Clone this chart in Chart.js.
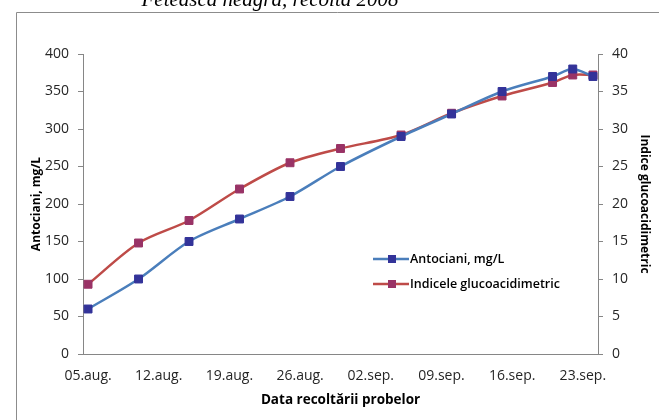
<!DOCTYPE html>
<html>
<head>
<meta charset="utf-8">
<script src="https://cdn.jsdelivr.net/npm/chart.js@4/dist/chart.umd.min.js"></script>
<style>
  html, body { margin: 0; padding: 0; background: #fff; }
  #chart { display: block; }
</style>
</head>
<body>
<canvas id="chart" width="659" height="420"></canvas>
<script>
// sampling dates (2008) and measured values
const sampleDates = ['2008-08-05', '2008-08-10', '2008-08-15', '2008-08-20', '2008-08-25', '2008-08-30',
                     '2008-09-05', '2008-09-10', '2008-09-15', '2008-09-20', '2008-09-22', '2008-09-24']
const antociani = [60, 100, 150, 180, 210, 250, 290, 320, 350, 370, 380, 370]
const indiceGA = [9.3, 14.8, 17.8, 22.0, 25.5, 27.4, 29.2, 32.1, 34.4, 36.2, 37.2, 37.2]
const tickLabels = ['05.aug.', '12.aug.', '19.aug.', '26.aug.', '02.sep.', '09.sep.', '16.sep.', '23.sep.']
const seriesNames = ['Antociani, mg/L', 'Indicele glucoacidimetric']

const DAY = 86400000
const start = Date.parse(sampleDates[0])
const dayOf = d => Math.round((Date.parse(d) - start) / DAY)

const AXIS_GREY = '#868686'
const TEXT = '#262626'
const FONT = 'Open Sans'

const blueLine = '#4a7ebb', blueMark = '#333399'
const redLine = '#be4b48', redMark = '#993366'

function points(values) {
  return values.map((v, i) => ({ x: dayOf(sampleDates[i]), y: v }))
}

// frame, title and the small legend inside the plot
const decorations = {
  id: 'decorations',
  beforeDraw(chart) {
    const ctx = chart.ctx
    ctx.save()
    ctx.strokeStyle = '#8c8c8c'
    ctx.lineWidth = 1
    ctx.beginPath()
    ctx.moveTo(16.5, 420)
    ctx.lineTo(16.5, 12.5)
    ctx.lineTo(659, 12.5)
    ctx.stroke()
    ctx.fillStyle = '#000'
    ctx.font = 'italic 21px "Liberation Serif"'
    ctx.textAlign = 'center'
    ctx.textBaseline = 'alphabetic'
    ctx.fillText('Feteasca neagră, recolta 2008', 270, 6)
    ctx.restore()
  },
  afterDraw(chart) {
    const ctx = chart.ctx
    const rows = [
      { name: seriesNames[0], line: blueLine, mark: blueMark, y: 259 },
      { name: seriesNames[1], line: redLine, mark: redMark, y: 284 }
    ]
    ctx.save()
    rows.forEach(r => {
      ctx.strokeStyle = r.line
      ctx.lineWidth = 2.5
      ctx.beginPath()
      ctx.moveTo(373, r.y)
      ctx.lineTo(409, r.y)
      ctx.stroke()
      ctx.fillStyle = r.mark
      ctx.fillRect(388, r.y - 4, 8, 8)
      ctx.fillStyle = '#000'
      ctx.font = '600 12.5px "' + FONT + '"'
      ctx.textAlign = 'left'
      ctx.textBaseline = 'middle'
      ctx.fillText(r.name, 410, r.y)
    })
    ctx.restore()
  }
}

const config = {
  type: 'line',
  data: {
    datasets: [
      {
        label: seriesNames[0],
        data: points(antociani),
        yAxisID: 'y',
        borderColor: blueLine,
        borderWidth: 2.5,
        pointStyle: 'rect',
        pointRadius: 5.6,
        pointBackgroundColor: blueMark,
        pointBorderColor: blueMark,
        pointBorderWidth: 1,
        tension: 0.3
      },
      {
        label: seriesNames[1],
        data: points(indiceGA),
        yAxisID: 'y2',
        borderColor: redLine,
        borderWidth: 2.5,
        pointStyle: 'rect',
        pointRadius: 5.6,
        pointBackgroundColor: redMark,
        pointBorderColor: redMark,
        pointBorderWidth: 1,
        tension: 0.3
      }
    ]
  },
  options: {
    responsive: false,
    animation: false,
    layout: { padding: { top: 54, left: 0, right: 0, bottom: 0 } },
    plugins: {
      legend: { display: false },
      title: { display: false },
      tooltip: { enabled: false }
    },
    scales: {
      x: {
        type: 'linear',
        position: 'bottom',
        min: -0.5,
        max: 50.5,
        grid: { display: false },
        border: { color: AXIS_GREY, width: 1 },
        afterBuildTicks: s => { s.ticks = tickLabels.map((t, i) => ({ value: i * 7 })) },
        afterFit: s => { s.height = 66 },
        ticks: {
          autoSkip: false,
          maxRotation: 0,
          padding: 6,
          color: TEXT,
          font: { family: FONT, size: 14 },
          callback: (v, i) => tickLabels[i]
        },
        title: {
          display: true,
          text: 'Data recoltării probelor',
          color: '#000',
          font: { family: FONT, size: 13.5, weight: 'bold' },
          padding: { top: 0, bottom: 12 }
        }
      },
      y: {
        position: 'left',
        min: 0,
        max: 400,
        grid: { drawOnChartArea: false, drawTicks: true, tickLength: 5, color: AXIS_GREY },
        border: { color: AXIS_GREY, width: 1 },
        afterFit: s => { s.width = 83 },
        ticks: {
          stepSize: 50,
          padding: 9,
          color: TEXT,
          font: { family: FONT, size: 14 }
        },
        title: {
          display: true,
          text: 'Antociani, mg/L',
          color: '#000',
          font: { family: FONT, size: 12, weight: 'bold' },
          padding: { top: 29, bottom: 0 }
        }
      },
      y2: {
        position: 'right',
        min: 0,
        max: 40,
        grid: { drawOnChartArea: false, drawTicks: true, tickLength: 5, color: AXIS_GREY },
        border: { color: AXIS_GREY, width: 1 },
        afterFit: s => { s.width = 61 },
        ticks: {
          stepSize: 5,
          padding: 9,
          color: TEXT,
          font: { family: FONT, size: 14 }
        },
        title: {
          display: true,
          text: 'Indice glucoacidimetric',
          color: '#000',
          font: { family: FONT, size: 12, weight: 'bold' },
          padding: { top: 7, bottom: 0 }
        }
      }
    }
  },
  plugins: [decorations]
}

const myChart = new Chart(document.getElementById('chart'), config)
</script>
</body>
</html>
